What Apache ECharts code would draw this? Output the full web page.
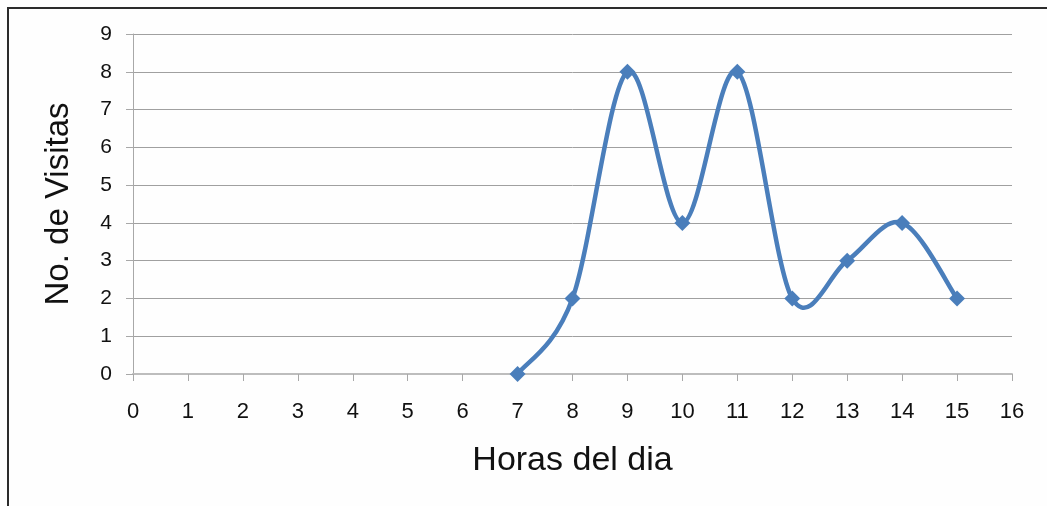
<!DOCTYPE html>
<html>
<head>
<meta charset="utf-8">
<script src="https://cdn.jsdelivr.net/npm/echarts@6/dist/echarts.min.js"></script>
<style>
  html, body { margin: 0; padding: 0; background: #fefefe; }
  #frame { position: absolute; left: 7px; top: 7px; width: 1040px; height: 499px;
           border-top: 2px solid #2c2c2c; border-left: 2px solid #2c2c2c; }
  #main { position: absolute; left: 0; top: 0; width: 1047px; height: 506px; }
</style>
</head>
<body>
<div id="frame"></div>
<div id="main"></div>
<script>
// horas del dia y numero de visitas
const horas = [7, 8, 9, 10, 11, 12, 13, 14, 15]
const visitas = [0, 2, 8, 4, 8, 2, 3, 4, 2]

let chart = echarts.init(document.getElementById('main'))
const fuente = '"Liberation Sans", Arial, sans-serif'
const azul = '#4a7ebb'
const puntos = horas.map((h, i) => [h, visitas[i]])

// curva suavizada tipo Excel (Catmull-Rom en pixeles)
function dibujarCurva(params, api) {
    if (params.dataIndex !== 0) return null
    let p = puntos.map(d => api.coord(d))
    let n = p.length
    let tramos = []
    for (let i = 0; i < n - 1; i++) {
        let p0 = p[Math.max(i - 1, 0)], p1 = p[i], p2 = p[i + 1], p3 = p[Math.min(i + 2, n - 1)]
        tramos.push({
            type: 'bezierCurve',
            shape: {
                x1: p1[0], y1: p1[1], x2: p2[0], y2: p2[1],
                cpx1: p1[0] + (p2[0] - p0[0]) / 6, cpy1: p1[1] + (p2[1] - p0[1]) / 6,
                cpx2: p2[0] - (p3[0] - p1[0]) / 6, cpy2: p2[1] - (p3[1] - p1[1]) / 6
            },
            style: { stroke: azul, fill: null, lineWidth: 4.5, lineCap: 'round' }
        })
    }
    return { type: 'group', children: tramos }
}

let option = {
    animation: false,
    grid: { left: 133, right: 35, top: 34, bottom: 132 },
    xAxis: {
        type: 'value',
        min: 0, max: 16, interval: 1,
        name: 'Horas del dia',
        nameLocation: 'middle',
        nameGap: 87,
        nameTextStyle: { fontFamily: fuente, fontSize: 34, color: '#111', verticalAlign: 'middle' },
        axisLine: { lineStyle: { color: '#bdbdbd', width: 2 } },
        axisTick: { show: true, length: 7, lineStyle: { color: '#a8a8a8' } },
        axisLabel: { fontFamily: fuente, fontSize: 22, color: '#111', margin: 27 },
        splitLine: { show: false }
    },
    yAxis: {
        type: 'value',
        min: 0, max: 9, interval: 1,
        name: 'No. de Visitas',
        nameLocation: 'middle',
        nameGap: 74,
        nameTextStyle: { fontFamily: fuente, fontSize: 33, color: '#111', verticalAlign: 'middle' },
        axisLine: { show: true, lineStyle: { color: '#a8a8a8', width: 1 } },
        axisTick: { show: true, length: 7, lineStyle: { color: '#a8a8a8' } },
        axisLabel: { fontFamily: fuente, fontSize: 21, color: '#111', margin: 21 },
        splitLine: { lineStyle: { color: '#a0a0a0', width: 1 } }
    },
    series: [
        {
            type: 'custom',
            renderItem: dibujarCurva,
            data: puntos,
            encode: { x: 0, y: 1 },
            z: 2
        },
        {
            type: 'line',
            data: puntos,
            symbol: 'diamond',
            symbolSize: 16,
            lineStyle: { width: 0 },
            itemStyle: { color: azul },
            z: 3
        }
    ]
}
chart.setOption(option)
</script>
</body>
</html>
